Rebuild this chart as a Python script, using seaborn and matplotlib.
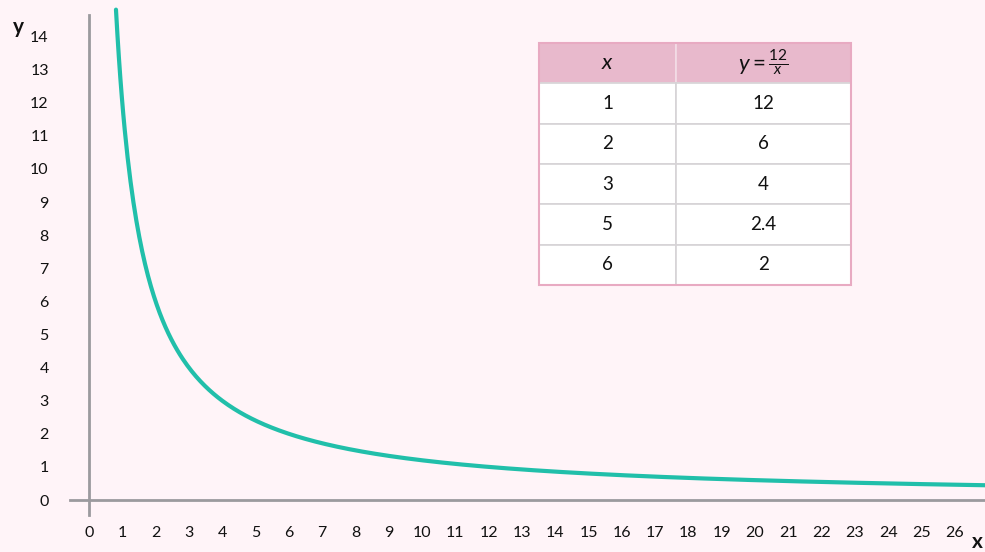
import numpy as np
import pandas as pd
import matplotlib
matplotlib.use('Agg')
import matplotlib.pyplot as plt
import seaborn as sns
from matplotlib.patches import Rectangle

# data
x_ticks = list(range(0, 27))
y_ticks = list(range(0, 15))
table_x = ['1', '2', '3', '5', '6']
table_y = ['12', '6', '4', '2.4', '2']
x_start, x_end = 0.81, 27.0

sns.set_theme(style='white')
plt.rcParams['font.family'] = ['Lato', 'DejaVu Sans']
plt.rcParams['mathtext.fontset'] = 'custom'
plt.rcParams['mathtext.it'] = 'Lato:italic'
plt.rcParams['mathtext.rm'] = 'Lato'

bg = '#fff4f8'
teal = '#21bfaa'
axis_grey = '#9b9a9e'

xs = np.linspace(x_start, x_end, 600)
df = pd.DataFrame({'x': xs, 'y': 12 / xs})

fig = plt.figure(figsize=(9.85, 5.52), dpi=100, facecolor=bg)
ax = fig.add_axes([0, 0, 1, 1])
ax.set_facecolor(bg)

sns.lineplot(data=df, x='x', y='y', ax=ax, color=teal, linewidth=3)

ax.set_xlim(-89 / 33.3, (985 - 89) / 33.3)
ax.set_ylim(-52 / 33.1, 500 / 33.1)

for s in ['top', 'right']:
    ax.spines[s].set_visible(False)
ax.spines['left'].set_position(('data', 0))
ax.spines['bottom'].set_position(('data', 0))
ax.spines['left'].set_bounds(-0.45, 14.65)
ax.spines['bottom'].set_bounds(-0.57, 28)
for s in ['left', 'bottom']:
    ax.spines[s].set_color(axis_grey)
    ax.spines[s].set_linewidth(2)

ax.set_xticks(x_ticks)
ax.set_yticks(y_ticks)
ax.set_xticklabels([str(v) for v in x_ticks])
ax.set_yticklabels([str(v) for v in y_ticks])
ax.tick_params(axis='x', direction='out', length=2, width=1.5, color=axis_grey,
               pad=17, labelsize=11.5, labelcolor='#111111')
ax.tick_params(axis='y', direction='out', length=2, width=1.5, color=axis_grey,
               pad=27, labelsize=11.5, labelcolor='#111111')
ax.set_xlabel('')
ax.set_ylabel('')

fig.text(18 / 985, 1 - 27 / 552, 'y', fontsize=15, fontweight='bold',
         ha='center', va='center', color='#111111')
fig.text(977 / 985, 1 - 542 / 552, 'x', fontsize=15, fontweight='bold',
         ha='center', va='center', color='#111111')

# value table
cells = [[a, b] for a, b in zip(table_x, table_y)]
tbl = ax.table(cellText=cells, colLabels=['$x$', r'$y = \frac{12}{x}$'],
               cellLoc='center', colWidths=[0.439, 0.561],
               bbox=[539 / 985, 1 - 285 / 552, (851 - 539) / 985, (285 - 43) / 552],
               transform=fig.transFigure)
tbl.auto_set_font_size(False)
tbl.set_fontsize(13.5)
for (r, c), cell in tbl.get_celld().items():
    cell.set_edgecolor('#d6d3d6')
    cell.set_linewidth(1.2)
    if r == 0:
        cell.set_facecolor('#e8b9cc')
        cell.set_edgecolor('#f3dde6')
        cell.get_text().set_fontsize(16)
    else:
        cell.set_facecolor('white')
    cell.get_text().set_color('#111111')

# outer pink border
ax.add_patch(Rectangle((539 / 985, 1 - 285 / 552), (851 - 539) / 985, (285 - 43) / 552,
                       transform=fig.transFigure, fill=False, edgecolor='#e8aac2',
                       linewidth=1.5, zorder=10))

fig.savefig('out.png', dpi=100, facecolor=bg)
